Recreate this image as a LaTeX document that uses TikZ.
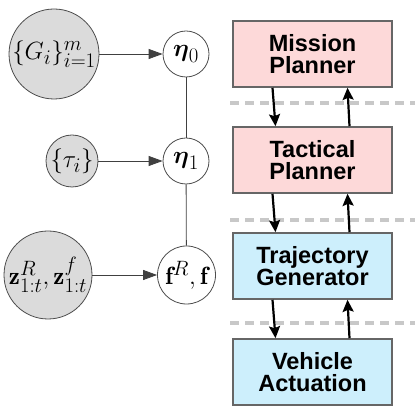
\documentclass[tikz,border=0pt]{standalone}
\usepackage{amsmath}
\usepackage{fontspec}
\newfontfamily\boxfont{Liberation Sans}
\usetikzlibrary{arrows.meta}
\definecolor{planpink}{HTML}{FDD9D9}
\definecolor{ctrlblue}{HTML}{CDEFFC}
\definecolor{sepgray}{HTML}{C8C8C8}
\tikzset{
    var/.style={circle,draw=black!70,line width=0.8pt,inner sep=0pt,font=\Huge},
    obs/.style={var,fill=black!14},
    layer/.style={draw=black!60,line width=1.6pt,minimum width=159pt,minimum height=66pt,
        align=center,font=\boxfont\bfseries\fontsize{23.5}{21.5}\selectfont},
    infer/.style={draw=black!75,line width=0.8pt,-{Triangle[length=14pt,width=10pt]}},
    flow/.style={line width=2.2pt,-{Stealth[length=12pt,width=11pt,inset=2pt]}},
    sep/.style={sepgray,line width=4pt,dash pattern=on 9pt off 6pt}
}
\begin{document}
\begin{tikzpicture}[x=1pt,y=-1pt]
    \useasboundingbox (0,0) rectangle (415,411);
    % separators between layers
    \coordinate (s1a) at (230,103); \coordinate (s1b) at (415,103);
    \coordinate (s2a) at (230,220); \coordinate (s2b) at (415,220);
    \coordinate (s3a) at (230,323); \coordinate (s3b) at (415,323);
    \draw[sep] (s1a) -- (s1b);
    \draw[sep] (s2a) -- (s2b);
    \draw[sep] (s3a) -- (s3b);
    \begin{scope}[every node/.style={obs}]
        \node[minimum size=90pt] (G) at (54,54) {$\{G_i\}_{i=1}^m$};
        \node[minimum size=52pt] (tau) at (72,161) {$\{\tau_i\}$};
        \node[minimum size=88pt] (z) at (48,275) {$\mathbf{z}^R_{1:t},\mathbf{z}^f_{1:t}$};
    \end{scope}
    \begin{scope}[every node/.style={var}]
        \node[minimum size=46pt] (eta0) at (186,54) {$\boldsymbol{\eta}_0$};
        \node[minimum size=46pt] (eta1) at (186,161) {$\boldsymbol{\eta}_1$};
        \node[minimum size=58pt] (f) at (186.5,275) {$\mathbf{f}^R,\mathbf{f}$};
    \end{scope}
    \begin{scope}[every node/.style={layer}]
        \node[fill=planpink] (mp) at (312.5,54) {Mission\\Planner};
        \node[fill=planpink] (tp) at (312.5,160) {Tactical\\Planner};
        \node[fill=ctrlblue] (tg) at (312.5,266) {Trajectory\\Generator};
        \node[fill=ctrlblue] (va) at (312.5,372) {Vehicle\\Actuation};
    \end{scope}
    \path
        (G) edge [infer] (eta0)
        (tau) edge [infer] (eta1)
        (z) edge [infer] (f)
        (eta0) edge [draw=black!75,line width=0.8pt] (eta1)
        (eta1) edge [draw=black!75,line width=0.8pt] (f);
    \path
        ([xshift=-40pt]mp.south) edge [flow] ([xshift=-37pt]tp.north)
        ([xshift=-40pt]tp.south) edge [flow] ([xshift=-37pt]tg.north)
        ([xshift=-40pt]tg.south) edge [flow] ([xshift=-37pt]va.north)
        ([xshift=37pt]tp.north) edge [flow] ([xshift=35pt]mp.south)
        ([xshift=37pt]tg.north) edge [flow] ([xshift=35pt]tp.south)
        ([xshift=37pt]va.north) edge [flow] ([xshift=35pt]tg.south);
\end{tikzpicture}
\end{document}
